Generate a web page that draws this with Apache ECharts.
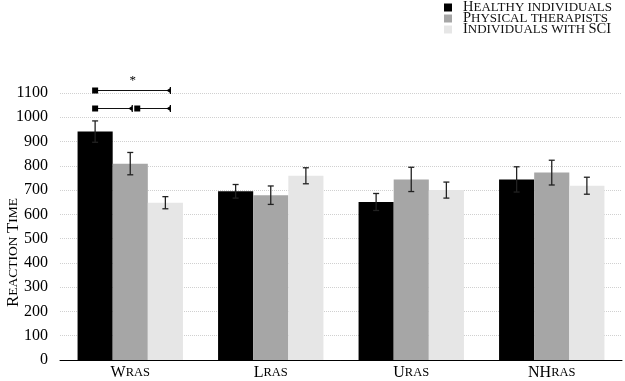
<!DOCTYPE html>
<html>
<head>
<meta charset="utf-8">
<script src="https://cdn.jsdelivr.net/npm/echarts@6/dist/echarts.min.js"></script>
<style>
  html, body { margin: 0; padding: 0; background: #fff; }
  #main { width: 625px; height: 381px; }
</style>
</head>
<body>
<div id="main"></div>
<script>
// data
var categories = ['WRAS', 'LRAS', 'URAS', 'NHRAS'];
var catLabels = { WRAS: ['W', 'RAS'], LRAS: ['L', 'RAS'], URAS: ['U', 'RAS'], NHRAS: ['NH', 'RAS'] };
var seriesNames = ['Healthy individuals', 'Physical therapists', 'Individuals with SCI'];
var healthy = [941, 695, 651, 744];
var healthyErr = [44, 28, 35, 52];
var therapists = [809, 679, 744, 772];
var therapistsErr = [46, 38, 50, 51];
var sci = [648, 759, 700, 718];
var sciErr = [25, 33, 33, 35];
var yMin = 0, yMax = 1100, yStep = 100;
// significance brackets: [category, from group, to group, value, star]
var sigLines = [
    [0, 0, 2, 1112, 1],
    [0, 0, 1, 1040, 0],
    [0, 1, 2, 1040, 0]
];

var colors = ['#000000', '#a6a6a6', '#e6e6e6'];
var font = 'Liberation Serif';
var gapRatio = 0.25;

var chart = echarts.init(document.getElementById('main'));

// small caps helper: first letters big, rest small
function sc(big, small) {
    return '{b|' + big + '}{s|' + small + '}';
}

function errSeries(k, vals, errs) {
    return {
        type: 'custom',
        z: 5,
        silent: true,
        data: vals.map(function (v, i) { return [i, v, errs[i]]; }),
        renderItem: function (params, api) {
            var i = api.value(0), v = api.value(1), e = api.value(2);
            var bw = api.size([1, 0])[0];
            var barW = bw * (1 - gapRatio) / 3;
            var x = api.coord([i, v])[0] + (k - 1) * barW;
            var yTop = api.coord([i, v + e])[1];
            var yBot = api.coord([i, v - e])[1];
            var st = { stroke: '#222', lineWidth: 1.3 };
            return {
                type: 'group',
                children: [
                    { type: 'line', shape: { x1: x, y1: yTop, x2: x, y2: yBot }, style: st },
                    { type: 'line', shape: { x1: x - 3, y1: yTop, x2: x + 3, y2: yTop }, style: st },
                    { type: 'line', shape: { x1: x - 3, y1: yBot, x2: x + 3, y2: yBot }, style: st }
                ]
            };
        }
    };
}

var sigSeries = {
    type: 'custom',
    z: 6,
    silent: true,
    data: sigLines,
    renderItem: function (params, api) {
        var i = api.value(0), from = api.value(1), to = api.value(2), v = api.value(3), star = api.value(4);
        var bw = api.size([1, 0])[0];
        var barW = bw * (1 - gapRatio) / 3;
        var c = api.coord([i, v]);
        var y = Math.round(c[1]) + 0.5;
        var x1 = c[0] + (from - 1) * barW + (from > 0 ? 7 : 0);
        var x2 = c[0] + (to - 1) * barW + (to === 2 ? 5 : 2);
        var kids = [
            { type: 'line', shape: { x1: x1, y1: y, x2: x2, y2: y }, style: { stroke: '#111', lineWidth: 1.2 } },
            { type: 'rect', shape: { x: x1 - 3, y: y - 3, width: 6, height: 6 }, style: { fill: '#000' } },
            { type: 'polygon', shape: { points: [[x2 - 4, y], [x2, y - 2.5], [x2, y + 2.5]] }, style: { fill: '#000' } },
            { type: 'line', shape: { x1: x2, y1: y - 3.5, x2: x2, y2: y + 3.5 }, style: { stroke: '#000', lineWidth: 1.2 } }
        ];
        if (star) {
            kids.push({
                type: 'text',
                style: { text: '*', x: (x1 + x2) / 2, y: y - 3, align: 'center', verticalAlign: 'bottom', font: '13px ' + font, fill: '#000' }
            });
        }
        return { type: 'group', children: kids };
    }
};

var richLegend = {
    p: { width: 6, lineHeight: 11 },
    b: { fontSize: 14.5, fontFamily: font, color: '#111', lineHeight: 11 },
    s: { fontSize: 13, fontFamily: font, color: '#111', lineHeight: 11 }
};

var option = {
    animation: false,
    color: colors,
    legend: {
        orient: 'vertical',
        left: 444,
        top: 0,
        padding: 0,
        itemWidth: 8,
        itemHeight: 8,
        itemGap: -4,
        icon: 'rect',
        data: seriesNames,
        formatter: function (name) {
            // small caps: only the first letter and true capitals stay large
            var tail = name.slice(1).toUpperCase();
            var out = '{p| }{b|' + name.charAt(0) + '}';
            if (/SCI$/.test(name)) {
                out += '{s|' + tail.replace(/SCI$/, '') + '}{b|SCI}';
            } else {
                out += '{s|' + tail + '}';
            }
            return out;
        },
        textStyle: { rich: richLegend, lineHeight: 11 }
    },
    grid: { left: 60, right: 3, top: 93, bottom: 21, outerBoundsMode: 'none' },
    xAxis: {
        type: 'category',
        data: categories,
        axisLine: { lineStyle: { color: '#000', width: 1 } },
        axisTick: { show: false },
        axisLabel: {
            margin: 5,
            formatter: function (v) { return sc(catLabels[v][0], catLabels[v][1]); },
            rich: {
                b: { fontSize: 16, fontFamily: font, color: '#000' },
                s: { fontSize: 12.5, fontFamily: font, color: '#000' }
            }
        }
    },
    yAxis: {
        type: 'value',
        min: yMin,
        max: yMax,
        interval: yStep,
        name: sc('R', 'EACTION ') + sc('T', 'IME'),
        nameLocation: 'middle',
        nameGap: 38,
        nameMoveOverlap: false,
        nameTextStyle: {
            padding: [0, 52, 0, 0],
            rich: {
                b: { fontSize: 17, fontFamily: font, color: '#000' },
                s: { fontSize: 13.5, fontFamily: font, color: '#000' }
            }
        },
        axisLine: { show: false },
        axisTick: { show: false },
        axisLabel: {
            fontSize: 16, fontFamily: font, color: '#000', margin: 12,
            formatter: function (v) { return String(v); }
        },
        splitLine: { lineStyle: { color: '#d0d0d0', type: 'dotted', width: 1 } }
    },
    series: [
        { name: seriesNames[0], type: 'bar', data: healthy, barGap: '0%', barCategoryGap: '25%', itemStyle: { color: colors[0] } },
        { name: seriesNames[1], type: 'bar', data: therapists, itemStyle: { color: colors[1] } },
        { name: seriesNames[2], type: 'bar', data: sci, itemStyle: { color: colors[2] } },
        errSeries(0, healthy, healthyErr),
        errSeries(1, therapists, therapistsErr),
        errSeries(2, sci, sciErr),
        sigSeries
    ]
};

chart.setOption(option);
</script>
</body>
</html>
